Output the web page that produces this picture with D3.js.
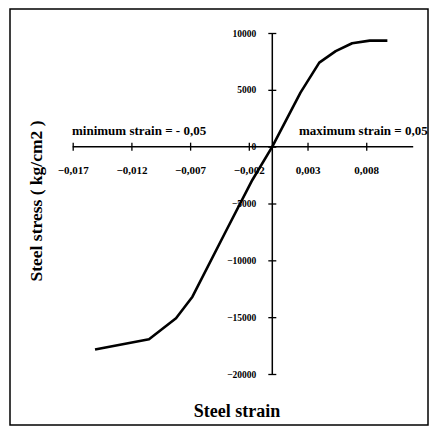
<!DOCTYPE html>
<html>
<head>
<meta charset="utf-8">
<script src="https://cdn.jsdelivr.net/npm/d3@7"></script>
<style>
  body { margin: 0; background: #fff; }
  svg { display: block; font-family: "Liberation Serif", "DejaVu Serif", serif; }
</style>
</head>
<body>
<div id="chart"></div>
<script>
// values
const strain = [-0.0151, -0.0105, -0.0082, -0.0068, -0.0039, -0.0017, 0, 0.0024, 0.0040, 0.0054, 0.0068, 0.0083, 0.0098];
const stress = [-17850, -16950, -15100, -13200, -7330, -2930, 0, 4750, 7390, 8400, 9100, 9330, 9330];
const xTicks = [-0.017, -0.012, -0.007, -0.002, 0.003, 0.008];
const yTicks = [10000, 5000, 0, -5000, -10000, -15000, -20000];

let width = 430, height = 427;

const svg = d3.select("#chart")
    .append("svg")
    .attr("width", width)
    .attr("height", height);

// frame
svg.append("rect")
    .attr("x", 10).attr("y", 9)
    .attr("width", 418).attr("height", 416)
    .attr("fill", "none")
    .attr("stroke", "#000")
    .attr("stroke-width", 1.5);

let x = d3.scaleLinear().domain([-0.017, 0.012]).range([72.7, 413.2]);
let y = d3.scaleLinear().domain([-20000, 10000]).range([374, 33]);

let fmt = d => d3.format(".3f")(d).replace(".", ",");

const xAxis = svg.append("g")
    .attr("transform", `translate(0,${y(0)})`)
    .call(d3.axisBottom(x).tickValues(xTicks).tickFormat(fmt).tickSizeOuter(0).tickSize(4).tickPadding(0));
xAxis.select(".domain").attr("d", `M${x(-0.017)},0H${x(0.012)}`).attr("stroke-width", 1.5);
xAxis.selectAll(".tick line").attr("y1", -4).attr("y2", 4).attr("stroke-width", 1.3);
xAxis.selectAll(".tick text")
    .attr("y", 20)
    .attr("fill", "#000")
    .style("font-size", "11px")
    .style("font-weight", "bold")
    .style("font-family", "'Liberation Serif', serif");

const yAxis = svg.append("g")
    .attr("transform", `translate(${x(0)},0)`)
    .call(d3.axisLeft(y).tickValues(yTicks).tickFormat(d3.format("d")).tickSizeOuter(0).tickSize(4).tickPadding(0));
yAxis.select(".domain").attr("d", `M0,${y(10000)}V${y(-20000)}`).attr("stroke-width", 1.5);
yAxis.selectAll(".tick line").attr("x1", -4).attr("x2", 4).attr("stroke-width", 1.3);
yAxis.selectAll(".tick text")
    .attr("x", -16)
    .attr("fill", "#000")
    .style("font-size", "9.5px")
    .style("font-weight", "bold")
    .style("font-family", "'Liberation Serif', serif");

// curve
let line = d3.line()
    .x((d, i) => x(strain[i]))
    .y((d, i) => y(stress[i]));

svg.append("path")
    .datum(stress)
    .attr("d", line)
    .attr("fill", "none")
    .attr("stroke", "#000")
    .attr("stroke-width", 2.6)
    .attr("stroke-linejoin", "round");

// annotations
svg.append("text")
    .attr("x", 72).attr("y", 135)
    .style("font-size", "13px").style("font-weight", "bold")
    .text("minimum strain = - 0,05");

svg.append("text")
    .attr("x", 299).attr("y", 135)
    .style("font-size", "13px").style("font-weight", "bold")
    .text("maximum strain = 0,05");

svg.append("text")
    .attr("x", 237).attr("y", 417)
    .attr("text-anchor", "middle")
    .style("font-size", "18px").style("font-weight", "bold")
    .text("Steel strain");

svg.append("text")
    .attr("transform", "translate(42,201) rotate(-90)")
    .attr("text-anchor", "middle")
    .style("font-size", "17.5px").style("font-weight", "bold")
    .text("Steel stress ( kg/cm2 )");
</script>
</body>
</html>
